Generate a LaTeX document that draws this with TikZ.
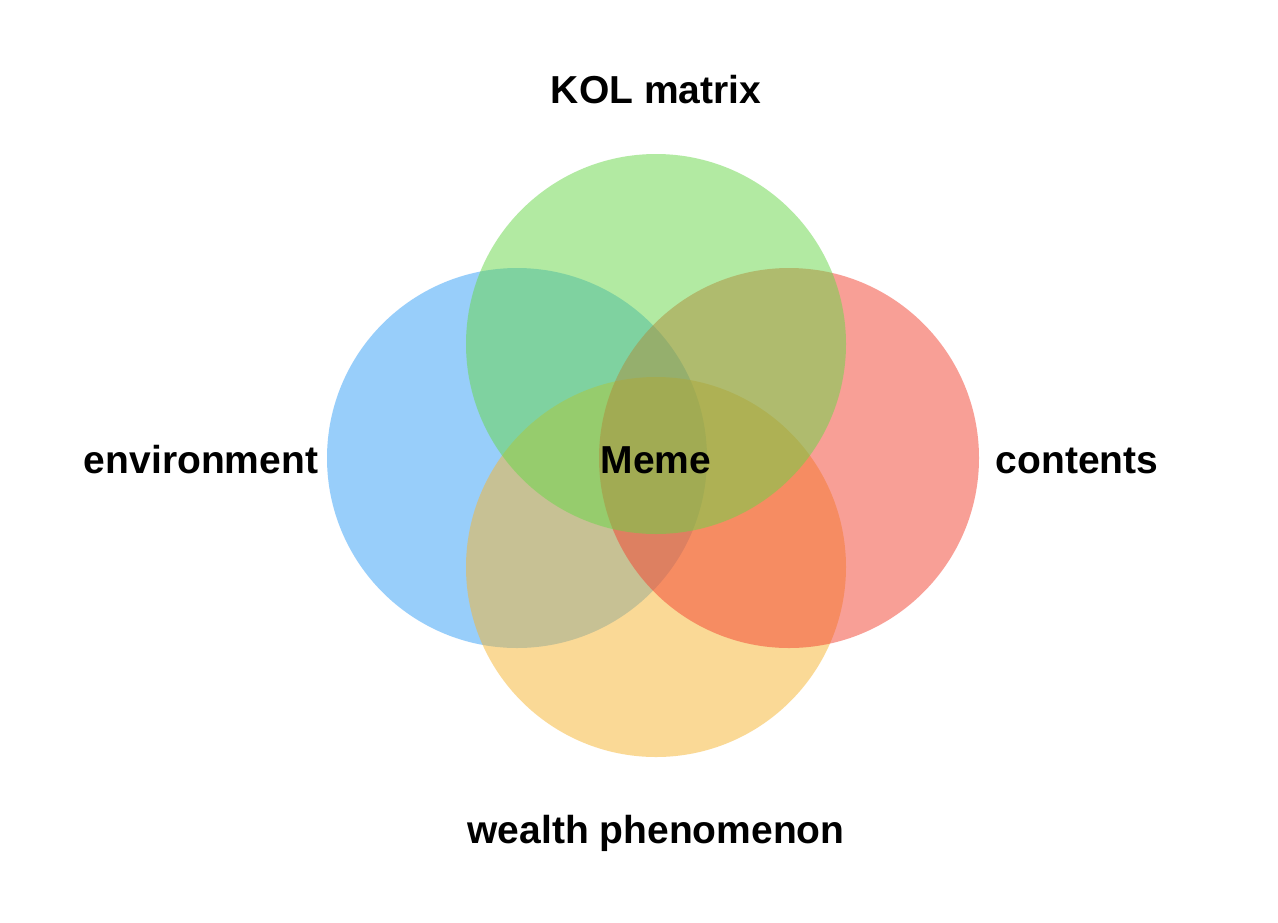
\documentclass[tikz,border=0pt]{standalone}
\usepackage{fontspec}
\setmainfont{Liberation Sans}
\usepackage{tikz}
\definecolor{envblue}{RGB}{51,159,247}
\definecolor{kolgreen}{RGB}{103,215,71}
\definecolor{contred}{RGB}{243,65,47}
\definecolor{wealthyellow}{RGB}{247,181,47}
\tikzset{
         venn set/.style=
          {
           circle,
           inner sep=0pt,
           minimum size=190pt,
           fill opacity=0.5
          },
         venn label/.style=
          {
           anchor=base,
           inner sep=0pt,
           font=\fontsize{19.5}{23}\selectfont\bfseries
          }
        }
\begin{document}
\begin{tikzpicture}[x=0.5pt,y=-0.5pt]
\useasboundingbox[fill=white](0,0) rectangle (1278,922);
%sets
\node[venn set,fill=envblue](envset)at(517,458){};
\node[venn set,fill=wealthyellow](wealthset)at(656,567){};
\node[venn set,fill=contred](contset)at(789,458){};
\node[venn set,fill=kolgreen](kolset)at(656,344){};
%labels
\node[venn label](kol)at(656,103){KOL matrix};
\node[venn label](env)at(201,473){environment};
\node[venn label](cont)at(1077,473){contents};
\node[venn label](wealth)at(656,843){wealth phenomenon};
\node[venn label](meme)at(656,473){Meme};
\end{tikzpicture}
\end{document}
